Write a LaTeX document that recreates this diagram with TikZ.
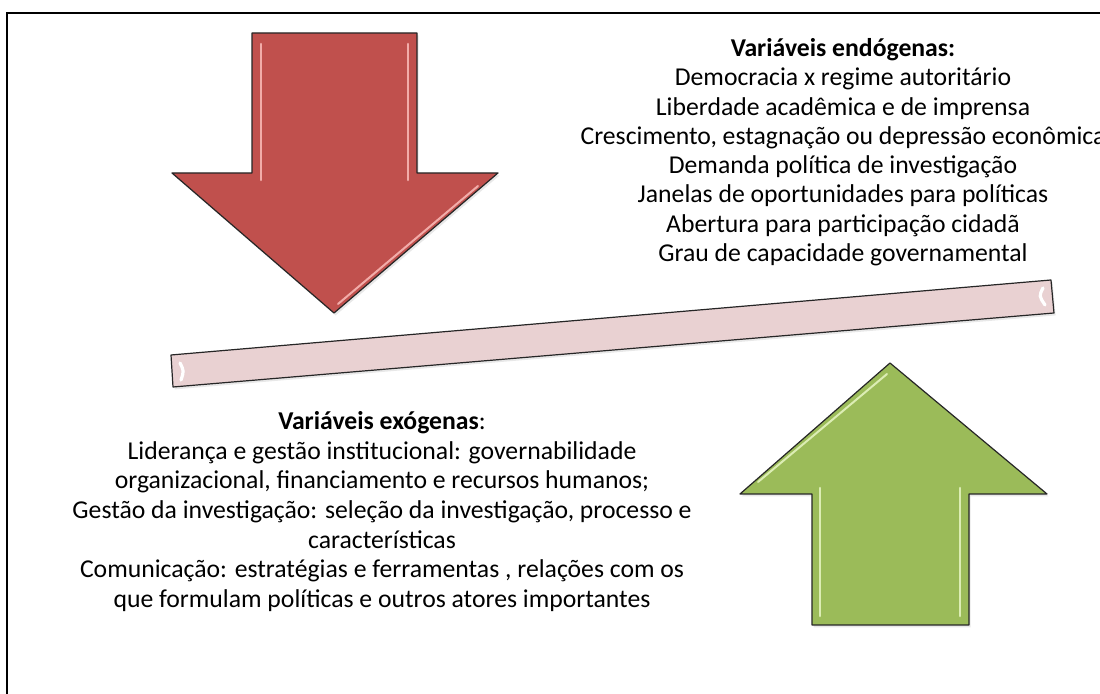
\documentclass[tikz,border=0pt]{standalone}
\usepackage{fontspec}
\setmainfont{Carlito}
\usetikzlibrary{positioning,shadows}

\definecolor{arrowred}{HTML}{C0504D}
\definecolor{redshine}{HTML}{F2ACA9}
\definecolor{arrowgreen}{HTML}{9BBB59}
\definecolor{greenshine}{HTML}{DCEDB4}
\definecolor{barpink}{RGB}{233,209,210}

\begin{document}
\begin{tikzpicture}[x=0.5pt,y=-0.5pt,
    every node/.style={inner sep=0pt,align=center},%
    bevelshape/.style={draw=black!85,line width=0.6pt,line join=round,%
      drop shadow={shadow xshift=0.8pt,shadow yshift=-1.2pt,opacity=0.18}},%
    shine/.style={line width=1.3pt,line cap=round},%
    vartext/.style={font=\fontsize{12.85pt}{14.65pt}\selectfont}%
  ]
  \useasboundingbox (0,0) rectangle (1100,694);
  \fill[white] (0,0) rectangle (1100,694);

  % frame
  \draw[line width=1.1pt] (7,720) -- (7,13) -- (1120,13);

  % red arrow
  \fill[bevelshape,fill=arrowred] (252,33) -- (417,33) -- (417,173) -- (498,173)%
     -- (334,313) -- (172,173) -- (252,173) -- cycle;
  \draw[shine,redshine] (261,44) -- (261,180);
  \draw[shine,redshine] (408,44) -- (408,180);
  \draw[shine,redshine,line width=1pt] (478,186) -- (338,304);

  % bar
  \fill[bevelshape,fill=barpink] (171,355) -- (1051,280) -- (1054,313)%
     -- (173,387) -- cycle;
  \draw[shine,white,line width=1.6pt] (180,363) .. controls (184,371) .. (181,380);
  \draw[shine,white,line width=1.6pt] (1043,288) .. controls (1039,296) .. (1045,305);

  % green arrow
  \fill[bevelshape,fill=arrowgreen] (890,363) -- (1047,494) -- (969,494) -- (969,625)%
     -- (812,625) -- (812,494) -- (740,494) -- cycle;
  \draw[shine,greenshine] (820,488) -- (820,616);
  \draw[shine,greenshine] (960,488) -- (960,616);
  \draw[shine,greenshine,line width=1pt] (887,374) -- (758,482);

  % texts
  \node[vartext,anchor=north] (endo) at (843,38) {%
    \textbf{Variáveis endógenas:}\\
    Democracia x regime autoritário\\
    Liberdade acadêmica e de imprensa\\
    Crescimento, estagnação ou depressão econômica\\
    Demanda política de investigação\\
    Janelas de oportunidades para políticas\\
    Abertura para participação cidadã\\
    Grau de capacidade governamental};

  \node[vartext,font=\fontsize{12.85pt}{14.85pt}\selectfont,anchor=north]%
    (exo) at (382,411) {%
    \textbf{Variáveis exógenas}:\\
    Liderança e gestão institucional: governabilidade\\
    organizacional, financiamento e recursos humanos;\\
    Gestão da investigação: seleção da investigação, processo e\\
    características\\
    Comunicação: estratégias e ferramentas , relações com os\\
    que formulam políticas e outros atores importantes};
\end{tikzpicture}
\end{document}
